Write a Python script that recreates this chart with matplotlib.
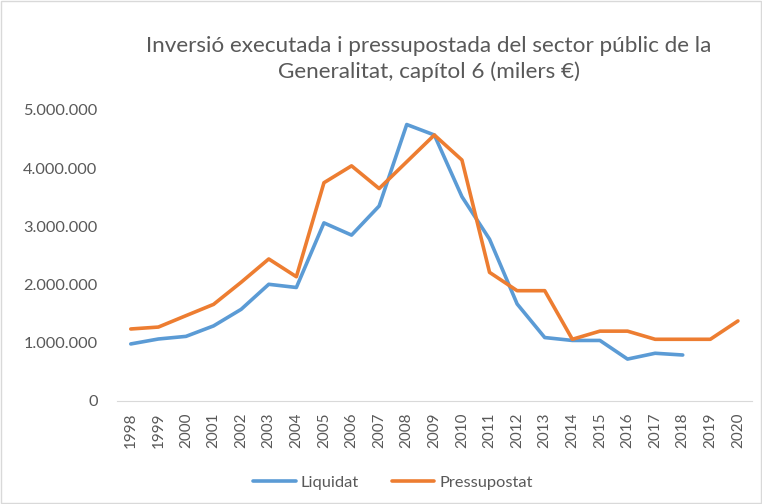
import matplotlib.pyplot as plt
from matplotlib.patches import Rectangle
from matplotlib.ticker import FuncFormatter

plt.rcParams['font.family'] = ['Lato', 'DejaVu Sans']

years = [str(y) for y in range(1998, 2021)]
liquidat = [980000, 1065000, 1110000, 1290000, 1575000, 2005000, 1950000,
            3060000, 2850000, 3350000, 4750000, 4570000, 3510000, 2780000,
            1667000, 1090000, 1040000, 1040000, 720000, 820000, 790000]
pressupostat = [1237000, 1270000, 1466000, 1660000, 2040000, 2440000, 2135000,
                3750000, 4040000, 3650000, 4110000, 4570000, 4140000, 2210000,
                1895000, 1895000, 1060000, 1200000, 1200000, 1060000, 1060000,
                1060000, 1375000]

txt = '#595959'
fig = plt.figure(figsize=(7.62, 5.04), dpi=100)
fig.patches.append(Rectangle((0.001, 0.001), 0.998, 0.997, transform=fig.transFigure,
                             fill=False, edgecolor='#d9d9d9', lw=1))
ax = fig.add_axes([0.1535, 0.2044, 0.833, 0.5774])

x1 = list(range(len(liquidat)))
x2 = list(range(len(pressupostat)))
ax.plot(x1, liquidat, color='#5B9BD5', lw=2.6, label='Liquidat', solid_capstyle='round')
ax.plot(x2, pressupostat, color='#ED7D31', lw=2.6, label='Pressupostat', solid_capstyle='round')

ax.set_xlim(-0.5, len(years) - 0.5)
ax.set_ylim(0, 5000000)
ax.set_xticks(range(len(years)))
ax.set_xticklabels(years, rotation=90)
ax.set_yticks(range(0, 5000001, 1000000))
ax.yaxis.set_major_formatter(FuncFormatter(lambda v, p: f'{int(v):,}'.replace(',', '.')))
ax.tick_params(axis='both', length=0, colors=txt)
ax.tick_params(axis='y', pad=14, labelsize=11.8)
ax.tick_params(axis='x', pad=8, labelsize=11)
for s in ['top', 'right', 'left']:
    ax.spines[s].set_visible(False)
ax.spines['bottom'].set_color('#d9d9d9')

fig.text(0.563, 0.883, 'Inversió executada i pressupostada del sector públic de la\nGeneralitat, capítol 6 (milers €)',
         ha='center', va='center', fontsize=16.2, color=txt, linespacing=1.3)

ax.legend(loc='center', bbox_to_anchor=(0.435, -0.28), ncol=2, frameon=False,
          fontsize=11.8, labelcolor=txt, handlelength=2.6, columnspacing=2.0, handletextpad=0.3)

fig.savefig('out.png', dpi=100)
